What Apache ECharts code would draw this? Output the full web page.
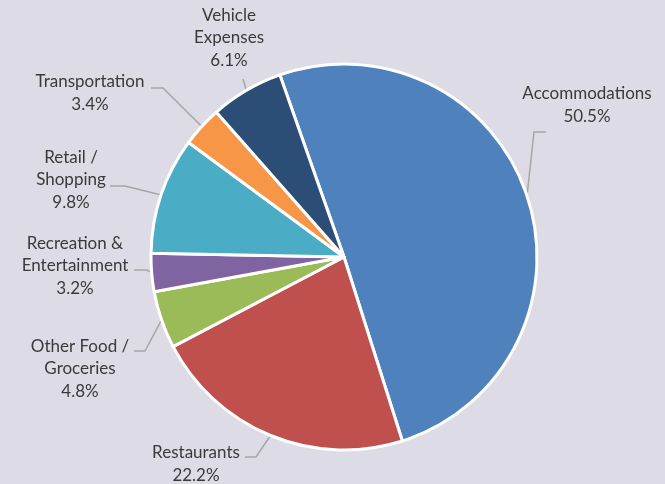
<!DOCTYPE html>
<html><head><meta charset="utf-8">
<script src="https://cdn.jsdelivr.net/npm/echarts@6/dist/echarts.min.js"></script>
<style>html,body{margin:0;padding:0;background:#DDDBE5;}#c{width:665px;height:484px;}</style>
</head><body><div id="c"></div>
<script>
var categories = ['Accommodations','Restaurants','Other Food /\nGroceries','Recreation &\nEntertainment','Retail /\nShopping','Transportation','Vehicle\nExpenses'];
var values = [50.5, 22.2, 4.8, 3.2, 9.8, 3.4, 6.1];
var colors = ['#4F81BD','#C0504D','#9BBB59','#8064A2','#4BACC6','#F79646','#2C4D75'];

// label placement (layout only)
var labelPos = [[587,105],[196,464],[80,369],[75,266],[71,180],[90,93],[229,38]];
var lineBends = [
  [[534,132],[546,132]],
  [[256,457],[245,457]],
  [[145,351],[134,351]],
  [[147,270],[134,270]],
  [[125,186],[110,186]],
  [[163,88],[151,88]],
  [[243,79]]
];

var chart = echarts.init(document.getElementById('c'));
chart.setOption({
  backgroundColor: '#DDDBE5',
  animation: false,
  series: [{
    type: 'pie',
    center: [344, 257],
    radius: 193,
    startAngle: 109.4,
    clockwise: true,
    avoidLabelOverlap: false,
    itemStyle: { borderColor: '#ffffff', borderWidth: 3 },
    label: {
      show: true,
      position: 'outside',
      fontFamily: 'Lato',
      fontSize: 17,
      lineHeight: 22.5,
      color: '#3A3A3A',
      align: 'center',
      formatter: function (p) { return p.name + '\n' + p.value.toFixed(1) + '%'; }
    },
    labelLine: { show: true, lineStyle: { color: '#A6A6A6', width: 1.5 } },
    labelLayout: function (params) {
      var i = params.dataIndex;
      var p0 = params.labelLinePoints ? params.labelLinePoints[0] : null;
      var res = { x: labelPos[i][0], y: labelPos[i][1], align: 'center', verticalAlign: 'middle' };
      if (p0) res.labelLinePoints = [p0].concat(lineBends[i]);
      return res;
    },
    data: categories.map(function (c, i) {
      return { name: c, value: values[i], itemStyle: { color: colors[i] } };
    })
  }]
});
</script></body></html>
